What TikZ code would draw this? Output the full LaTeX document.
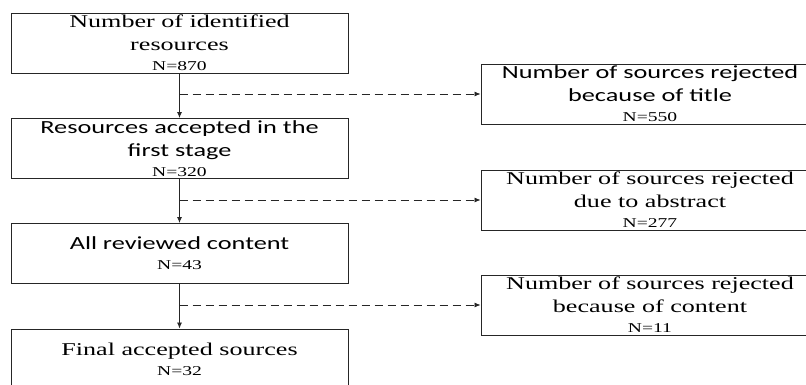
\documentclass[tikz,border=0pt]{standalone}
\usepackage{fontspec}
\usetikzlibrary{arrows.meta, positioning}
\newfontfamily\serifw[FakeStretch=1.45]{Liberation Serif}
\newfontfamily\sansw[FakeStretch=1.42]{Carlito}
\newcommand{\nline}[1]{\\[-3pt]{\serifw\fontsize{13.5}{16}\selectfont #1}}

\begin{document}
\begin{tikzpicture}[
		x=1pt, y=1pt,
		stage/.style ={
			rectangle,	draw=black!85,	line width=0.9pt,
			minimum width=337pt,	minimum height=60pt,	inner sep=0pt,	align=center
		},
		reject/.style ={
			rectangle,	draw=black!85,	line width=0.9pt,
			minimum width=338pt,	minimum height=60pt,	inner sep=0pt,	align=center
		},
		serif/.style={font=\serifw\fontsize{18}{23}\selectfont},
		sans/.style={font=\sansw\fontsize{18.5}{23}\selectfont},
		flow/.style={-{Latex[length=6pt,width=5pt]}, line width=0.8pt, black!85},
		skip/.style={-{Latex[length=6pt,width=5pt]}, line width=0.8pt, black!85,
			dash pattern=on 8pt off 5pt},
	]
	\useasboundingbox (0,0) rectangle (806,-385);
	\clip (0,0) rectangle (806,-385);

	\newcommand{\lleft}{179.5}
	\newcommand{\lright}{650}

	% nodes
	\node (stage1) at (\lleft,-43)    [stage, serif] {Number of identified\\resources\nline{N=870}};
	\node (stage2) at (\lleft,-148.5) [stage, sans]  {Resources accepted in the\\first stage\nline{N=320}};
	\node (stage3) at (\lleft,-253.5) [stage, sans]  {All reviewed content\nline{N=43}};
	\node (stage4) at (\lleft,-359)   [stage, serif] {Final accepted sources\nline{N=32}};

	\node (reject1) at (\lright,-94)  [reject, sans]  {Number of sources rejected\\because of title\nline{N=550}};
	\node (reject2) at (\lright,-200) [reject, serif] {Number of sources rejected\\due to abstract\nline{N=277}};
	\node (reject3) at (\lright,-305) [reject, serif] {Number of sources rejected\\because of content\nline{N=11}};

	% interconnections
	\foreach \i/\j in {1/2,2/3,3/4}%
		\draw [flow] (stage\i) -- (stage\j);
	\foreach \i in {1,2,3} {
		\coordinate (branch\i) at (stage\i.south |- reject\i.west);
		\draw [skip] (branch\i) -- (reject\i);
	}

\end{tikzpicture}
\end{document}
